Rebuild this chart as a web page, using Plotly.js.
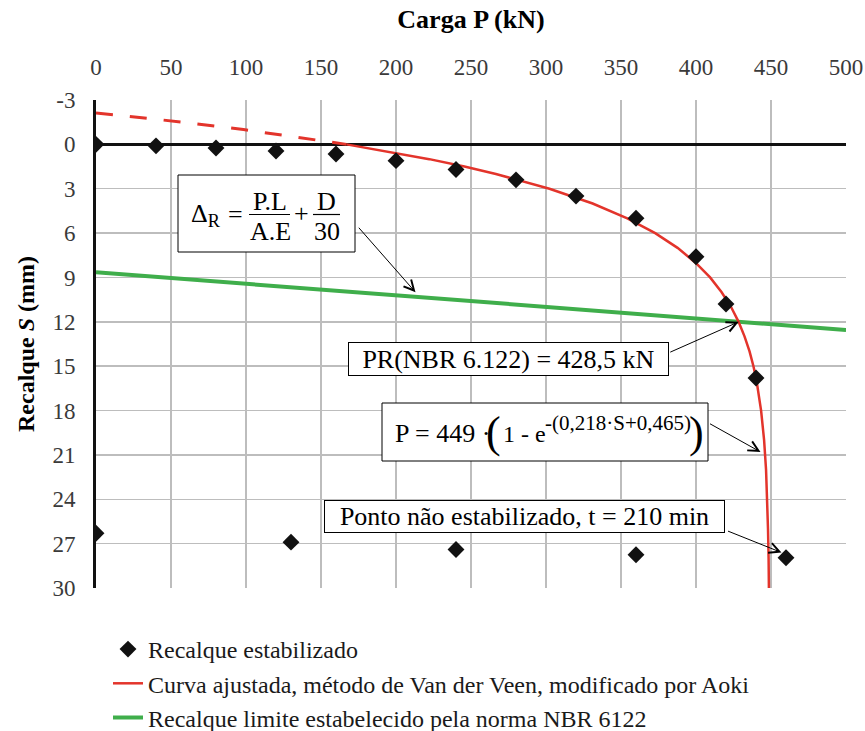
<!DOCTYPE html>
<html><head><meta charset="utf-8">
<script src="https://cdn.plot.ly/plotly-3.0.1.min.js"></script>
<style>
html,body{margin:0;padding:0;background:#fff;}
#chart{width:865px;height:731px;}
</style>
</head><body>
<div id="chart"></div>
<script>
// ---- data ----
const loadP      = [0, 40, 80, 120, 160, 200, 240, 280, 320, 360, 400, 420, 440, 460, 360, 240, 130, 0];
const settlement = [0, 0.1, 0.25, 0.45, 0.65, 1.1, 1.7, 2.4, 3.5, 5.0, 7.6, 10.8, 15.8, 27.95, 27.75, 27.4, 26.9, 26.3];

const fitS = [0, 0.5, 1, 1.5, 2, 3, 4, 5, 6, 7, 8, 9, 10, 11, 12, 13, 14, 15, 16, 18, 20, 22, 24, 26, 28, 30];
const fitP = [167.0, 196.1, 222.2, 245.6, 266.6, 302.3, 331.1, 354.2, 372.8, 387.7, 399.7, 409.4, 417.1, 423.4, 428.4, 432.4, 435.7, 438.3, 440.4, 443.4, 445.4, 446.7, 447.5, 448.0, 448.4, 448.6];

const extS = [-2.13, -2, -1.5, -1, -0.5, 0];
const extP = [0, 12.8, 57.9, 98.3, 134.5, 167.0];

const limP = [0, 500];
const limS = [8.65, 12.55];

const xTicks = [0, 50, 100, 150, 200, 250, 300, 350, 400, 450, 500];
const yTicks = [-3, 0, 3, 6, 9, 12, 15, 18, 21, 24, 27, 30];

const nameEst = 'Recalque estabilizado';
const nameFit = 'Curva ajustada, método de Van der Veen, modificado por Aoki';
const nameLim = 'Recalque limite estabelecido pela norma NBR 6122';

// ---- layout helpers (pixel -> paper) ----
const W = 865, H = 731;
const L = 96, R = 846, T = 100, B = 588;
const fx = p => (p - L) / (R - L);
const fy = p => (B - p) / (B - T);
const SERIF = '"Liberation Serif", "Times New Roman", Times, serif';
const RED = '#e3342b', GREEN = '#3fae4b';

const traces = [
  { x: limP, y: limS, mode: 'lines', name: nameLim, legendrank: 3,
    line: { color: GREEN, width: 4 } },
  { x: extP, y: extS, mode: 'lines', showlegend: false,
    line: { color: RED, width: 3, dash: '17px,17px' } },
  { x: fitP, y: fitS, mode: 'lines', name: nameFit, legendrank: 2,
    line: { color: RED, width: 2.5 } },
  { x: loadP, y: settlement, mode: 'markers', name: nameEst, legendrank: 1,
    marker: { symbol: 'diamond', size: 13, color: '#111' } }
];

function txt(t, x, y, size, xanchor) {
  return { text: t, xref: 'paper', yref: 'paper', x: fx(x), y: fy(y),
    xanchor: xanchor || 'center', yanchor: 'middle', showarrow: false,
    font: { family: SERIF, size: size, color: '#000' } };
}
function boxTxt(t, x0, x1, y0, y1, size) {
  return { text: t, xref: 'paper', yref: 'paper', x: fx((x0 + x1) / 2), y: fy((y0 + y1) / 2),
    xanchor: 'center', yanchor: 'middle', showarrow: false,
    width: x1 - x0 - 2, height: y1 - y0 - 2, borderpad: 0,
    bgcolor: '#fff', bordercolor: '#000', borderwidth: 1,
    font: { family: SERIF, size: size, color: '#000' } };
}
function arrow(x, y, ax, ay) {
  return { text: '', x: x, y: y, xref: 'x', yref: 'y', ax: ax, ay: ay,
    showarrow: true, arrowhead: 5, arrowsize: 2, arrowwidth: 1, arrowcolor: '#000' };
}

const layout = {
  width: W, height: H,
  font: { family: SERIF },
  margin: { l: L, r: W - R, t: T, b: H - B, autoexpand: false },
  paper_bgcolor: '#fff', plot_bgcolor: '#fff',
  showlegend: true,
  legend: { x: fx(108), y: fy(627), xanchor: 'left', yanchor: 'top',
    bgcolor: 'rgba(0,0,0,0)', font: { family: SERIF, size: 24, color: '#1a1a1a' },
    traceorder: 'normal' },
  xaxis: {
    side: 'top', range: [0, 500], tickvals: xTicks, ticktext: xTicks.map(String),
    showgrid: true, gridcolor: '#bdbdbd', gridwidth: 1.5, zeroline: false, showline: false,
    ticks: 'outside', ticklen: 15, tickcolor: 'rgba(0,0,0,0)', automargin: false,
    tickfont: { family: SERIF, size: 23, color: '#3a3a3a' },
    title: { text: '<b>Carga P (kN)</b>', standoff: 18, font: { family: SERIF, size: 26, color: '#000' } }
  },
  yaxis: {
    range: [30, -3], tickvals: yTicks, ticktext: yTicks.map(String),
    showgrid: true, gridcolor: '#bdbdbd', gridwidth: 1.5,
    zeroline: true, zerolinecolor: '#111', zerolinewidth: 2.5,
    showline: true, linecolor: '#111', linewidth: 3, automargin: false,
    ticks: 'outside', ticklen: 13, tickcolor: 'rgba(0,0,0,0)',
    tickfont: { family: SERIF, size: 23, color: '#3a3a3a' },
    title: { text: '<b>Recalque <i>S</i> (mm)</b>', standoff: 12, font: { family: SERIF, size: 24, color: '#000' } }
  },
  shapes: [
    { type: 'rect', xref: 'paper', yref: 'paper', x0: fx(178), x1: fx(355), y0: fy(252), y1: fy(175),
      fillcolor: '#fff', line: { color: '#000', width: 1 } },
    { type: 'line', xref: 'paper', yref: 'paper', x0: fx(249), x1: fx(290), y0: fy(214.5), y1: fy(214.5),
      line: { color: '#000', width: 1.2 } },
    { type: 'line', xref: 'paper', yref: 'paper', x0: fx(313), x1: fx(340), y0: fy(214.5), y1: fy(214.5),
      line: { color: '#000', width: 1.2 } },
    { type: 'rect', xref: 'paper', yref: 'paper', x0: fx(382), x1: fx(708), y0: fy(461), y1: fy(403),
      fillcolor: '#fff', line: { color: '#000', width: 1 } }
  ],
  annotations: [
    arrow(213, 10.0, -58, -66),
    arrow(428.5, 12.0, -70, 31),
    arrow(443, 20.8, -52, -29),
    arrow(457, 27.6, -55, -22),
    // formula 1
    txt('Δ<sub>R</sub>', 206, 215, 26),
    txt('=', 235, 214, 26),
    txt('P.L', 270, 202, 26),
    txt('A.E', 270, 231, 26),
    txt('+', 301.5, 213, 26),
    txt('D', 326.5, 202, 26),
    txt('30', 326.5, 231, 26),
    // PR box
    boxTxt('PR(NBR 6.122) = 428,5 kN', 348, 669, 342, 376, 26),
    // formula 2
    txt('P = 449 ·', 393, 433, 26, 'left'),
    txt('(', 493, 432, 44),
    txt('1 - e', 501, 434, 24, 'left'),
    txt('-(0,218·S+0,465)', 543, 423, 21, 'left'),
    txt(')', 696, 432, 44),
    // non-stabilised point box
    boxTxt('Ponto não estabilizado, t = 210 min', 324, 725, 500, 533, 26)
  ]
};

Plotly.newPlot('chart', traces, layout, { displayModeBar: false, staticPlot: true });
</script>
</body></html>
